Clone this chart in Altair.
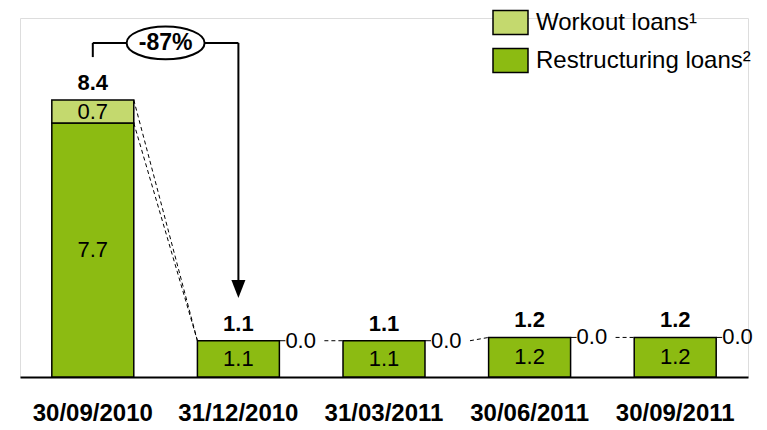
import altair as alt
import pandas as pd

# ---------------- data ----------------
dates = ["30/09/2010", "31/12/2010", "31/03/2011", "30/06/2011", "30/09/2011"]
restructuring = [7.7, 1.1, 1.1, 1.2, 1.2]
workout = [0.7, 0.0, 0.0, 0.0, 0.0]
totals = [8.4, 1.1, 1.1, 1.2, 1.2]
series_names = ["Workout loans¹", "Restructuring loans²"]
series_colors = ["#C4D96E", "#8CBB12"]
change_text = "-87%"
bracket_level = 10.13
bracket_start = 9.70
arrow_head = 2.67
y_max = 10.885

FONT = "Liberation Sans"

# ---------------- tables ----------------
seg_rows = []
for d, r, w in zip(dates, restructuring, workout):
    seg_rows.append(dict(date=d, series=series_names[1], y0=0.0, y1=r, mid=r / 2, label=f"{r:.1f}", order=0))
    if w > 0:
        seg_rows.append(dict(date=d, series=series_names[0], y0=r, y1=r + w, mid=r + w / 2, label=f"{w:.1f}", order=1))
segs = pd.DataFrame(seg_rows)

tops = pd.DataFrame(dict(date=dates, y=totals, label=[f"{t:.1f}" for t in totals]))
zeros = pd.DataFrame([dict(date=d, y=t, label=f"{w:.1f}") for d, t, w in zip(dates, totals, workout) if w == 0])

first_rows, rest_rows = [], []
for i in range(len(dates) - 1):
    pairs = {(restructuring[i], restructuring[i + 1]), (totals[i], totals[i + 1])}
    for a, b in sorted(pairs):
        row = dict(src=dates[i], dst=dates[i + 1], ya=a, yb=b)
        (rest_rows if workout[i] == 0 else first_rows).append(row)
first_df = pd.DataFrame(first_rows)
rest_df = pd.DataFrame(rest_rows)

ann = pd.DataFrame([dict(src=dates[0], dst=dates[1], level=bracket_level,
                         start=bracket_start, head=arrow_head, text=change_text)])

# ---------------- encodings ----------------
xscale = alt.Scale(domain=dates, paddingInner=0.437, paddingOuter=0.2185)
xaxis = alt.Axis(title=None, labelFont=FONT, labelFontSize=24, labelFontWeight="bold",
                 labelColor="black", domainColor="black", domainWidth=2, ticks=False,
                 labelPadding=24, labelAngle=0, grid=False)
yscale = alt.Scale(domain=[0, y_max], nice=False, zero=True)


def X(field, bp=None):
    kw = {}
    if bp is not None:
        kw["bandPosition"] = bp
    return alt.X(f"{field}:N", scale=xscale, axis=xaxis, sort=dates, title=None, **kw)


def Y(field):
    return alt.Y(f"{field}:Q", scale=yscale, axis=None)


base_seg = alt.Chart(segs)

bars = base_seg.mark_bar(stroke="black", strokeWidth=1.5).encode(
    x=X("date"),
    y=Y("y0"),
    y2="y1",
    color=alt.Color(
        "series:N",
        scale=alt.Scale(domain=series_names, range=series_colors),
        legend=alt.Legend(
            orient="none", legendX=472, legendY=-14, title=None, padding=0,
            symbolType="M -1 -0.686 H 1 V 0.686 H -1 Z", symbolSize=1225,
            symbolStrokeColor="black", symbolStrokeWidth=1.5, symbolOpacity=1,
            labelFont=FONT, labelFontSize=24, labelColor="black", labelOffset=7,
            rowPadding=4, labelLimit=400,
        ),
    ),
    order=alt.Order("order:Q"),
)

inner_labels = base_seg.mark_text(font=FONT, fontSize=22, color="black", baseline="middle").encode(
    x=X("date"), y=Y("mid"), text="label:N"
)

top_labels = alt.Chart(tops).mark_text(font=FONT, fontSize=22, fontWeight="bold", color="black",
                                      baseline="alphabetic", dy=-10).encode(
    x=X("date"), y=Y("y"), text="label:N"
)

zero_labels = alt.Chart(zeros).mark_text(font=FONT, fontSize=22, color="black", baseline="middle",
                                        align="left", dx=6).encode(
    x=X("date", 1), y=Y("y"), text="label:N"
)

leader = alt.Chart(zeros).mark_rule(color="black", strokeWidth=1, x2Offset=6).encode(
    x=X("date", 1), x2=alt.X2("date", bandPosition=1), y=Y("y")
)

conn_first = alt.Chart(first_df).mark_rule(color="black", strokeWidth=1, strokeDash=[4, 3]).encode(
    x=X("src", 1), x2=alt.X2("dst", bandPosition=0), y=Y("ya"), y2="yb"
)

conn_rest = alt.Chart(rest_df).mark_rule(color="black", strokeWidth=1, strokeDash=[4, 3], xOffset=45).encode(
    x=X("src", 1), x2=alt.X2("dst", bandPosition=0), y=Y("ya"), y2="yb"
)

base_ann = alt.Chart(ann)
br_h = base_ann.mark_rule(color="black", strokeWidth=2).encode(
    x=X("src", 0.5), x2=alt.X2("dst", bandPosition=0.5), y=Y("level")
)
br_l = base_ann.mark_rule(color="black", strokeWidth=2).encode(
    x=X("src", 0.5), y=Y("start"), y2="level"
)
br_r = base_ann.mark_rule(color="black", strokeWidth=2).encode(
    x=X("dst", 0.5), y=Y("head"), y2="level"
)
arrow = base_ann.mark_point(shape="M -0.78 -1 L 0.78 -1 L 0 1 Z", size=324, filled=True,
                            color="black", opacity=1).encode(
    x=X("dst", 0.5), y=Y("head")
)
ellipse = base_ann.mark_point(shape="M -1 0 A 1 0.42 0 1 1 1 0 A 1 0.42 0 1 1 -1 0 Z", size=6084,
                              filled=True, fill="white", stroke="black", strokeWidth=2, opacity=1,
                              xOffset=72.8).encode(
    x=X("src", 0.5), y=Y("level")
)
ell_text = base_ann.mark_text(font=FONT, fontSize=23, fontWeight="bold", color="black",
                              baseline="middle", xOffset=72.8).encode(
    x=X("src", 0.5), y=Y("level"), text="text:N"
)

chart = alt.layer(
    conn_first, conn_rest, bars, inner_labels, top_labels, leader, zero_labels,
    br_h, br_l, br_r, arrow, ellipse, ell_text,
).properties(
    width=728, height=359,
    padding={"left": 12, "top": 10, "right": 11, "bottom": 52},
    autosize=alt.AutoSizeParams(type="none"),
).configure_view(stroke=None).configure(font=FONT)

chart.save("out.html", embed_options={"renderer": "svg", "actions": False})
